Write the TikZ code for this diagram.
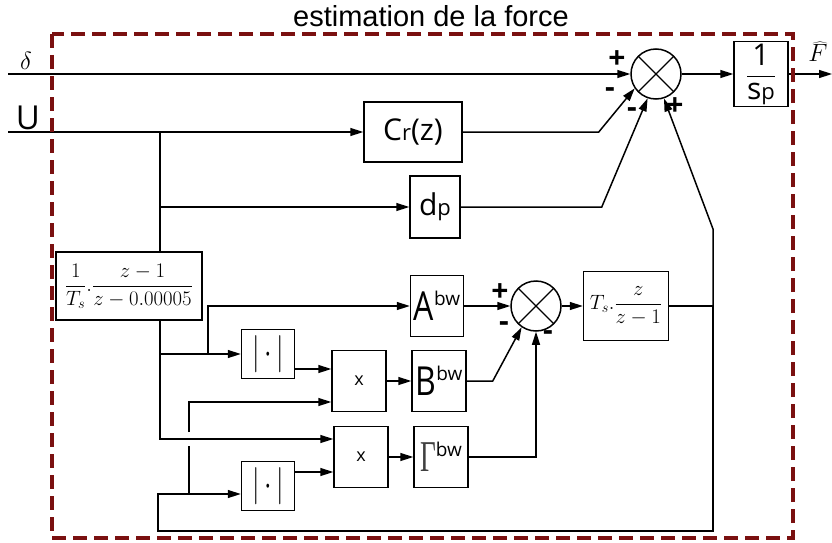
\documentclass[tikz,border=0pt]{standalone}
\usepackage{fontspec}
\setmainfont{Liberation Sans}
\newfontfamily\labelfont{Open Sans}
\newfontfamily\serfont{Liberation Serif}
\usetikzlibrary{arrows.meta}
\definecolor{darkred}{RGB}{122,16,16}
\newcommand{\lowp}[1]{{\fontsize{22}{22}\selectfont #1}}
\newcommand{\bwsup}{\raisebox{15pt}{\fontsize{19}{19}\selectfont bw}}
\newcommand{\bwlabel}[1]{\scalebox{0.8}[1]{\fontsize{40}{40}\selectfont #1}\bwsup}
\newcommand{\absval}{\scalebox{1.3}[1.8]{\fontsize{20}{20}\selectfont$|\,{\cdot}\,|$}}

\tikzset{
  blk/.style={draw, line width=1.5pt, inner sep=0pt, font=\labelfont\fontsize{30}{32}\selectfont},
  sumnode/.style={draw, circle, line width=1.5pt, minimum size=50pt, inner sep=0pt,
    path picture={\draw[line width=1.2pt] (path picture bounding box.north west) -- (path picture bounding box.south east)
      (path picture bounding box.north east) -- (path picture bounding box.south west);}},
  sig/.style={-{Triangle[length=13pt,width=8pt]}, line width=1.5pt},
  wire/.style={line width=1.5pt},
  sgn/.style={font=\labelfont\bfseries\fontsize{30}{30}\selectfont, inner sep=0pt},
}

\begin{document}
\begin{tikzpicture}[x=1pt, y=-1pt]
\useasboundingbox (0,0) rectangle (832,543);
\node[anchor=base] (title) at (431,27) {\fontsize{29}{30}\selectfont estimation de la force};

% inputs
\coordinate (inD) at (8,74);
\coordinate (inU) at (8,132);
\node[anchor=base] (dlab) at (26,70) {\fontsize{27}{27}\selectfont$\delta$};
\node[anchor=base, font=\labelfont\fontsize{33}{33}\selectfont] (ulab) at (28,129) {U};

% upper part
\node[sumnode] (sum1) at (656,74) {};
\node[blk, minimum width=98pt, minimum height=60pt] (cr) at (413,132) {C\lowp{r}(z)};
\node[blk, minimum width=50pt, minimum height=62pt] (dp) at (435,207) {d\lowp{p}};
\node[blk, minimum width=54pt, minimum height=65pt] (integ) at (761,74) {$\displaystyle\frac{\hbox{1}}{\hbox{s\lowp{p}}}$};
\coordinate (out) at (832,74);
\node[anchor=base] (flab) at (818,62) {\fontsize{29}{29}\selectfont$\widehat{F}$};

% filter and bouc-wen part
\node[blk, minimum width=146pt, minimum height=68pt, font=\fontsize{21}{22}\selectfont] (filt) at (129,286)
  {$\displaystyle\frac{1}{T_s}.\frac{z-1}{z-0.00005}$};
\node[blk, minimum width=53pt, minimum height=49pt] (absA) at (268,354) {\absval};
\node[blk, minimum width=53pt, minimum height=49pt] (absB) at (268,486) {\absval};
\node[blk, minimum width=54pt, minimum height=61pt, font=\labelfont\fontsize{18}{18}\selectfont] (mulA) at (359,381) {x};
\node[blk, minimum width=54pt, minimum height=61pt, font=\labelfont\fontsize{18}{18}\selectfont] (mulB) at (361,457) {x};
\node[blk, minimum width=53pt, minimum height=61pt] (abw) at (437,306) {\bwlabel{A}};
\node[blk, minimum width=54pt, minimum height=61pt] (bbw) at (439,381) {\bwlabel{B}};
\node[blk, minimum width=54pt, minimum height=61pt] (gbw) at (441,457)
  {\scalebox{0.62}[1]{\color{black!75}\serfont\fontsize{44}{44}\selectfont Γ}\bwsup};
\node[sumnode] (sum2) at (536,306) {};
\node[blk, minimum width=85pt, minimum height=69pt, font=\fontsize{21}{22}\selectfont] (tsint) at (626,306)
  {$\displaystyle T_s.\frac{z}{z-1}$};

% signs
\node[sgn] (p1) at (617,60) {+};
\node[sgn] (m1) at (610,93) {-};
\node[sgn] (m2) at (632,113) {-};
\node[sgn] (p2) at (675,107) {+};
\node[sgn] (p3) at (500,293) {+};
\node[sgn] (m3) at (504,327) {-};
\node[sgn] (m4) at (548,336) {-};

% connections
\draw[sig] (inD) -- (sum1.west);
\draw[sig] (inU) -- (cr.west);
\draw[sig] (cr.east) -- ++(136,0) -- (sum1.214);
\draw[sig] (dp.east) -- ++(141,0) -- (sum1.251);
\draw[sig] (sum1.east) -- (integ.west);
\draw[sig] (integ.east) -- (out);

\coordinate (tapU) at (160,132);
\draw[wire] (tapU) -- (tapU |- filt.north);
\draw[sig] (tapU |- dp.west) -- (dp.west);
\coordinate (tapF) at (160,439);
\draw[sig] (tapU |- filt.south) -- (tapF) -- (tapF -| mulB.west);
\draw[sig] (tapU |- absA.west) -- (absA.west);
\coordinate (tapA) at (208,354);
\draw[sig] (tapA) -- (tapA |- abw.west) -- (abw.west);

\coordinate (aout) at ([yshift=-15pt]absA.east);
\draw[sig] (aout) -- (aout -| mulA.west);
\coordinate (bout) at ([yshift=14pt]absB.east);
\draw[sig] (bout) -- (bout -| mulB.west);
\draw[sig] (mulA.east) -- (bbw.west);
\draw[sig] (mulB.east) -- (gbw.west);

\draw[sig] (abw.east) -- (sum2.west);
\draw[sig] (bbw.east) -- ++(26,0) -- (sum2.236);
\draw[sig] (gbw.east) -- (gbw.east -| sum2.south) -- (sum2.south);
\draw[sig] (sum2.east) -- (tsint.west);

% feedback
\coordinate (fb) at (713,306);
\coordinate (lcol) at (158,531);
\coordinate (hop) at (189,439);
\draw[wire] (tsint.east) -- (fb);
\draw[sig] (fb) -- (713,229) -- (sum1.288);
\coordinate (bin) at ([yshift=-8pt]absB.west);
\draw[sig] (fb) -- (fb |- lcol) -- (lcol) -- (lcol |- bin) -- (bin);
\coordinate (m2in) at ([yshift=-21pt]mulA.west);
\draw[wire] (hop |- bin) -- ([yshift=-7pt]hop);
\draw[sig] ([yshift=7pt]hop) -- (hop |- m2in) -- (m2in);

% frame
\draw[darkred, line width=3.2pt, dash pattern=on 14pt off 7pt] (52,34) rectangle (793,538);
\end{tikzpicture}
\end{document}
